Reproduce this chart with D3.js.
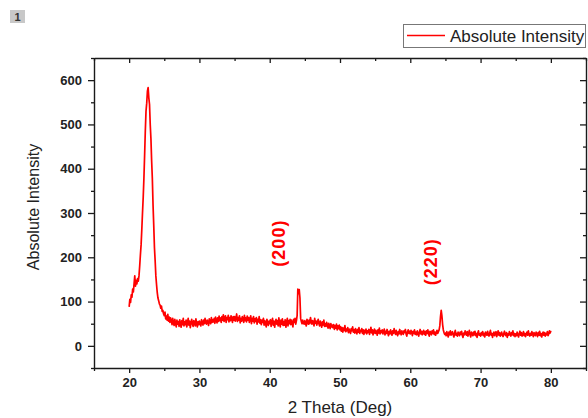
<!DOCTYPE html>
<html>
<head>
<meta charset="utf-8">
<script src="https://cdn.jsdelivr.net/npm/d3@7"></script>
<style>
  html, body { margin: 0; padding: 0; background: #fff; }
  svg { display: block; font-family: "Liberation Sans", Arial, sans-serif; }
</style>
</head>
<body>
<svg id="chart" width="588" height="418"></svg>
<script>
// ---- Data ----
const startAngle = 20.0;   // 2θ of first sample
const stepAngle = 0.1;     // sampling step (deg)
// intensity at 20.0, 20.1, ... 80.0 (one row per degree)
const intensity = [
  88,105,98,115,110,128,122,140,158,135,
  148,140,152,146,158,180,205,228,262,300,
  335,378,430,485,530,548,575,583,560,545,
  500,468,418,378,318,272,222,192,158,138,
  120,108,102,95,92,85,90,78,80,72,
  68,76,61,67,58,71,56,65,53,63,
  57,48,62,52,46,60,51,43,58,49,
  55,44,59,49,42,57,48,62,45,54,
  48,58,43,52,62,47,56,41,51,60,
  50,44,57,52,45,61,50,43,55,48,
  56,49,45,59,51,47,58,50,62,52,
  49,58,54,46,61,55,50,64,53,59,
  54,62,51,65,57,52,63,55,67,57,
  63,53,66,58,70,55,62,68,53,64,
  59,69,54,64,57,68,60,53,66,58,
  66,56,63,72,55,64,58,68,52,62,
  56,66,60,53,69,57,63,54,67,58,
  64,53,61,68,50,62,56,66,52,61,
  55,64,49,60,54,66,51,59,48,58,
  53,62,47,57,51,43,60,52,46,56,
  50,59,44,55,62,47,56,42,53,60,
  49,57,45,63,51,43,58,49,61,46,
  55,47,59,42,53,62,45,57,50,60,
  48,58,51,43,60,53,62,49,57,68,
  128,118,127,108,62,55,50,58,53,49,
  57,51,45,60,54,49,58,50,64,55,
  49,57,53,45,62,51,56,47,54,60,
  50,45,56,49,42,54,47,58,44,50,
  44,53,47,40,51,45,39,50,43,47,
  41,48,37,46,40,49,36,45,39,47,
  36,43,33,41,31,40,35,46,32,38,
  34,41,30,38,33,28,39,34,43,31,
  36,29,39,33,27,37,31,41,28,35,
  32,39,28,36,26,35,30,38,27,34,
  30,37,26,33,42,29,36,25,32,38,
  28,35,31,24,36,29,40,27,34,30,
  36,27,32,38,25,33,28,37,29,23,
  33,27,36,29,24,34,28,39,31,26,
  35,28,23,32,27,37,30,25,34,28,
  26,34,30,37,27,22,31,36,28,33,
  27,35,30,23,33,28,36,26,31,25,
  34,28,22,31,37,27,33,25,30,35,
  26,32,24,34,28,36,27,22,33,30,
  25,34,28,36,26,31,24,30,35,28,
  32,36,45,66,80,68,48,36,30,26,
  29,23,32,26,20,31,25,34,24,28,
  32,25,20,29,35,24,28,22,31,27,
  23,31,26,33,24,19,29,25,34,28,
  24,32,22,28,35,25,20,31,27,23,
  31,25,33,23,28,19,29,34,24,27,
  22,30,25,32,23,28,20,31,27,24,
  33,25,22,29,35,24,28,19,27,31,
  23,28,32,21,27,34,24,30,22,26,
  31,24,21,28,33,25,23,30,19,27,
  24,32,27,22,30,25,34,23,28,21,
  27,23,31,25,20,28,33,24,30,22,
  25,32,23,28,21,27,31,24,34,25,
  22,28,24,32,27,21,30,25,23,31,
  27,21,30,24,33,23,28,20,27,31,
  24,30,22,28,25,32,23,27,34,29,
  34
];
const xTicks = [20, 30, 40, 50, 60, 70, 80];
const yTicks = [0, 100, 200, 300, 400, 500, 600];
const xDomain = [15, 85];
const yDomain = [-50, 650];
const peakLabels = ["(200)", "(220)"];
const peakAngles = [41.25, 63.0];
const peakLabelValues = [232, 190];
const seriesName = "Absolute Intensity";
const xTitle = "2 Theta (Deg)";
const yTitle = "Absolute Intensity";

// ---- Drawing ----
const svg = d3.select("#chart");
const L = 94, R = 586, T = 58, B = 368;
const x = d3.scaleLinear().domain(xDomain).range([L, R]);
const y = d3.scaleLinear().domain(yDomain).range([B, T]);
const axisColor = "#1a1a1a";

svg.append("rect").attr("width", 588).attr("height", 418).attr("fill", "#fff");

// badge
svg.append("rect").attr("x", 10).attr("y", 10).attr("width", 15).attr("height", 13).attr("fill", "#c8c8c8");
svg.append("text").attr("x", 17.5).attr("y", 21).attr("text-anchor", "middle")
  .attr("font-size", 11).attr("font-weight", "bold").attr("fill", "#333").text("1");

const data = intensity.map((v, i) => ({ a: startAngle + i * stepAngle, v }));

// line
const line = d3.line().x(d => x(d.a)).y(d => y(d.v));
svg.append("path").datum(data).attr("d", line)
  .attr("fill", "none").attr("stroke", "#ff0000").attr("stroke-width", 1.7)
  .attr("stroke-linejoin", "round");

// minor ticks values
const xMinor = d3.range(15, 85.01, 5).filter(v => !xTicks.includes(v));
const yMinor = d3.range(-50, 650.01, 50).filter(v => !yTicks.includes(v));

function styleAxis(g) {
  g.selectAll("path.domain").attr("stroke", axisColor).attr("stroke-width", 1.4);
  g.selectAll(".tick line").attr("stroke", axisColor).attr("stroke-width", 1.3);
  g.selectAll("text").attr("font-size", 13).attr("font-weight", "bold").attr("fill", "#222")
    .attr("font-family", "'Liberation Sans', Arial, sans-serif");
}

// bottom axis
const gx = svg.append("g").attr("transform", `translate(0,${B})`)
  .call(d3.axisBottom(x).tickValues(xTicks).tickSize(5).tickPadding(5).tickSizeOuter(0));
styleAxis(gx);
svg.append("g").attr("transform", `translate(0,${B})`)
  .call(d3.axisBottom(x).tickValues(xMinor).tickSize(3).tickFormat("").tickSizeOuter(0))
  .call(g => { g.select(".domain").remove(); styleAxis(g); });

// left axis
const gy = svg.append("g").attr("transform", `translate(${L},0)`)
  .call(d3.axisLeft(y).tickValues(yTicks).tickSize(6).tickPadding(6).tickSizeOuter(0));
styleAxis(gy);
svg.append("g").attr("transform", `translate(${L},0)`)
  .call(d3.axisLeft(y).tickValues(yMinor).tickSize(3).tickFormat("").tickSizeOuter(0))
  .call(g => { g.select(".domain").remove(); styleAxis(g); });

// top axis (inward ticks)
const gt = svg.append("g").attr("transform", `translate(0,${T})`)
  .call(d3.axisTop(x).tickValues(xTicks).tickSize(-5).tickFormat("").tickSizeOuter(0));
styleAxis(gt);
svg.append("g").attr("transform", `translate(0,${T})`)
  .call(d3.axisTop(x).tickValues(xMinor).tickSize(-3).tickFormat("").tickSizeOuter(0))
  .call(g => { g.select(".domain").remove(); styleAxis(g); });

// right axis (inward ticks)
const gr = svg.append("g").attr("transform", `translate(${R},0)`)
  .call(d3.axisRight(y).tickValues(yTicks).tickSize(-6).tickFormat("").tickSizeOuter(0));
styleAxis(gr);
svg.append("g").attr("transform", `translate(${R},0)`)
  .call(d3.axisRight(y).tickValues(yMinor).tickSize(-3).tickFormat("").tickSizeOuter(0))
  .call(g => { g.select(".domain").remove(); styleAxis(g); });

// axis titles
svg.append("text").attr("x", (L + R) / 2).attr("y", 413).attr("text-anchor", "middle")
  .attr("font-size", 17).attr("fill", "#222").text(xTitle);
svg.append("text").attr("transform", `translate(39,207) rotate(-90)`).attr("text-anchor", "middle")
  .attr("font-size", 16).attr("fill", "#222").text(yTitle);

// peak labels
peakLabels.forEach((t, i) => {
  svg.append("text")
    .attr("transform", `translate(${x(peakAngles[i]) + 6},${y(peakLabelValues[i])}) rotate(-90)`)
    .attr("text-anchor", "middle").attr("font-size", 18).attr("font-weight", "bold")
    .attr("letter-spacing", 1).attr("fill", "#ff0000").text(t);
});

// legend
svg.append("rect").attr("x", 403.5).attr("y", 24.5).attr("width", 182).attr("height", 23)
  .attr("fill", "#fff").attr("stroke", "#777").attr("stroke-width", 1);
svg.append("line").attr("x1", 407).attr("x2", 445).attr("y1", 35.5).attr("y2", 35.5)
  .attr("stroke", "#ff0000").attr("stroke-width", 1.3);
svg.append("text").attr("x", 450).attr("y", 41.5).attr("font-size", 17).attr("fill", "#222").text(seriesName);
</script>
</body>
</html>
